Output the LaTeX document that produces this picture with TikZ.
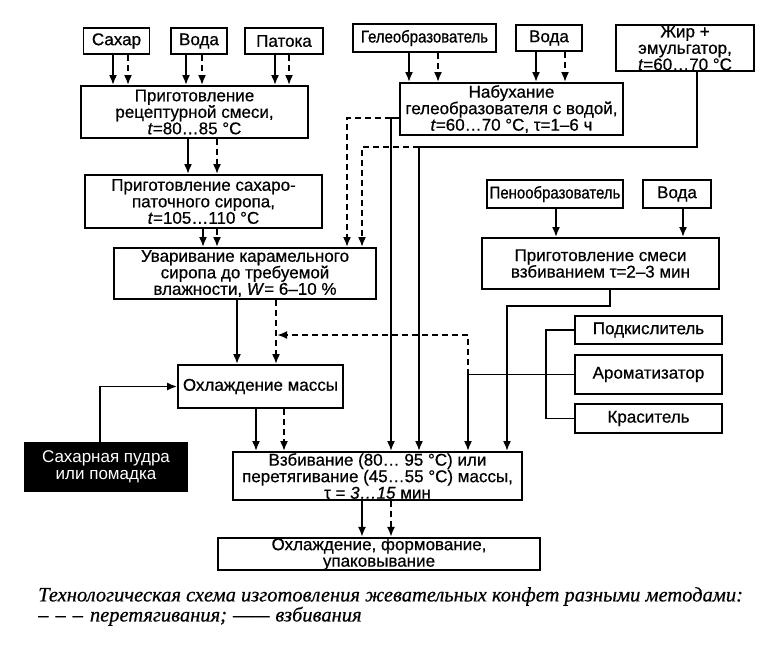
\documentclass[tikz,border=0pt]{standalone}
\usepackage{fontspec}
\setmainfont[FakeBold=0.6]{Liberation Sans}
\newfontfamily\narrowfont[FakeStretch=0.88,FakeBold=0.6]{Liberation Sans}
\newfontfamily\lightfont{Liberation Sans}
\newfontfamily\capfont[FakeBold=0.5]{Liberation Serif}
\usetikzlibrary{arrows.meta}

\tikzset{
  box/.style={draw, line width=1.8pt, align=center, inner sep=0pt, font=\fontsize{17}{16.5}\selectfont},
  whipline/.style={->, line width=2pt},
  pullline/.style={->, line width=2pt, dash pattern=on 6pt off 4pt},
  branch/.style={line width=1.3pt},
  captext/.style={anchor=north west, align=left, inner sep=0pt, font=\capfont\itshape\fontsize{20.5}{18.5}\selectfont},
}

\begin{document}
\begin{tikzpicture}[x=1pt,y=-1pt,>={Latex[length=10pt,width=8pt]}]
\useasboundingbox (0,0) rectangle (765,653);

% syrup line
\node[box, minimum width=66pt, minimum height=26pt] (sugar) at (116.5,41) {Сахар};
\node[box, minimum width=56pt, minimum height=26pt] (water1) at (199,41) {Вода};
\node[box, minimum width=78pt, minimum height=26pt] (molasses) at (284,41) {Патока};
\node[box, minimum width=227pt, minimum height=52pt] (mix1) at (194.5,112) {Приготовление\\рецептурной смеси,\\\textit{t}=80…85 °C};
\node[box, minimum width=237pt, minimum height=53pt] (syrup) at (203.5,201.5) {Приготовление сахаро-\\паточного сиропа,\\\textit{t}=105…110 °C};
\node[box, minimum width=262pt, minimum height=51pt] (boil) at (245,273.5) {Уваривание карамельного\\сиропа до требуемой\\влажности, \textit{W}= 6–10 \%};
\node[box, minimum width=165pt, minimum height=43pt] (cool1) at (260.5,386.5) {Охлаждение массы};
\node[box, fill=black, text=white, minimum width=162pt, minimum height=48pt] (powder) at (106,467) {\lightfont Сахарная пудра\\\lightfont или помадка};
\node[box, minimum width=289pt, minimum height=48pt] (whip) at (377.5,476) {Взбивание (80… 95 °C) или\\перетягивание (45…55 °C) массы,\\τ = \textit{3…15} мин};
\node[box, minimum width=322pt, minimum height=32pt] (final) at (379,554) {Охлаждение, формование,\\упаковывание};

% gel and fat
\node[box, minimum width=143pt, minimum height=28pt] (gel) at (424.5,38) {\narrowfont Гелеобразователь};
\node[box, minimum width=66pt, minimum height=26pt] (water2) at (549,38) {Вода};
\node[box, minimum width=223pt, minimum height=52pt] (swell) at (511.5,109) {Набухание\\гелеобразователя с водой,\\\textit{t}=60…70 °C, τ=1–6 ч};
\node[box, minimum width=138pt, minimum height=46pt] (fat) at (685,48) {Жир +\\эмульгатор,\\\textit{t}=60…70 °C};

% foam
\node[box, minimum width=136pt, minimum height=28pt] (foam) at (555,194) {\narrowfont Пенообразователь};
\node[box, minimum width=68pt, minimum height=28pt] (water3) at (677,194) {Вода};
\node[box, minimum width=237pt, minimum height=51pt] (foammix) at (600.5,263.5) {Приготовление смеси\\взбиванием τ=2–3 мин};

% additives
\node[box, minimum width=147pt, minimum height=28pt] (acid) at (648.5,330) {Подкислитель};
\node[box, minimum width=147pt, minimum height=39pt] (aroma) at (648.5,374.5) {Ароматизатор};
\node[box, minimum width=147pt, minimum height=29pt] (dye) at (648.5,418.5) {Краситель};

% caption
\node[captext] (caption) at (38,587) {Технологическая схема изготовления жевательных конфет разными методами:\\–\hspace{7pt}–\hspace{7pt}–\hspace{7pt}перетягивания;\hspace{6pt}——\hspace{6pt}взбивания};

% arrows of the syrup line
\draw[whipline] (sugar.south -| 113,0) -- (mix1.north -| 113,0);
\draw[pullline] (sugar.south -| 128,0) -- (mix1.north -| 128,0);
\draw[whipline] (water1.south -| 186,0) -- (mix1.north -| 186,0);
\draw[pullline] (water1.south -| 202,0) -- (mix1.north -| 202,0);
\draw[whipline] (molasses.south -| 275,0) -- (mix1.north -| 275,0);
\draw[pullline] (molasses.south -| 289,0) -- (mix1.north -| 289,0);
\draw[whipline] (mix1.south -| 188,0) -- (syrup.north -| 188,0);
\draw[pullline] (mix1.south -| 217,0) -- (syrup.north -| 217,0);
\draw[whipline] (syrup.south -| 203,0) -- (boil.north -| 203,0);
\draw[pullline] (syrup.south -| 217,0) -- (boil.north -| 217,0);
\draw[whipline] (boil.south -| 237,0) -- (cool1.north -| 237,0);
\draw[pullline] (boil.south -| 276,0) -- (cool1.north -| 276,0);
\draw[whipline] (cool1.south -| 256,0) -- (whip.north -| 256,0);
\draw[pullline] (cool1.south -| 284,0) -- (whip.north -| 284,0);
\draw[whipline] (whip.south -| 362,0) -- (final.north -| 362,0);
\draw[pullline] (whip.south -| 391,0) -- (final.north -| 391,0);
\draw[->, line width=1.6pt] (powder.north -| 100,0) |- (cool1.west);

% gel and fat
\draw[whipline] (gel.south -| 409,0) -- (swell.north -| 409,0);
\draw[pullline] (gel.south -| 438,0) -- (swell.north -| 438,0);
\draw[whipline] (water2.south -| 536,0) -- (swell.north -| 536,0);
\draw[pullline] (water2.south -| 565,0) -- (swell.north -| 565,0);
\coordinate (swellsplit) at (391,118);
\coordinate (fatsplit) at (419,147);
\draw[whipline] (swell.west |- swellsplit) -| (whip.north -| swellsplit);
\draw[pullline] (swellsplit) -| (boil.north -| 347,0);
\draw[whipline] (fat.south -| 697,0) |- (fatsplit) -- (whip.north -| fatsplit);
\draw[pullline] (fatsplit) -| (boil.north -| 362,0);

% foam
\draw[whipline] (foam.south -| 556,0) -- (foammix.north -| 556,0);
\draw[whipline] (water3.south -| 683,0) -- (foammix.north -| 683,0);
\coordinate (foamturn) at (507,306);
\draw[whipline] (foammix.south -| 610,0) |- (foamturn) -- (whip.north -| foamturn);

% additives
\coordinate (addjoin) at (546,374.5);
\coordinate (addturn) at (468,374.5);
\coordinate (pulljoin) at (277,335);
\draw[branch] (acid.west) -| (addjoin) |- (dye.west);
\draw[branch] (aroma.west) -- (addturn);
\draw[whipline] (addturn) -- (whip.north -| addturn);
\draw[pullline] (addturn) |- (pulljoin);
\end{tikzpicture}
\end{document}
